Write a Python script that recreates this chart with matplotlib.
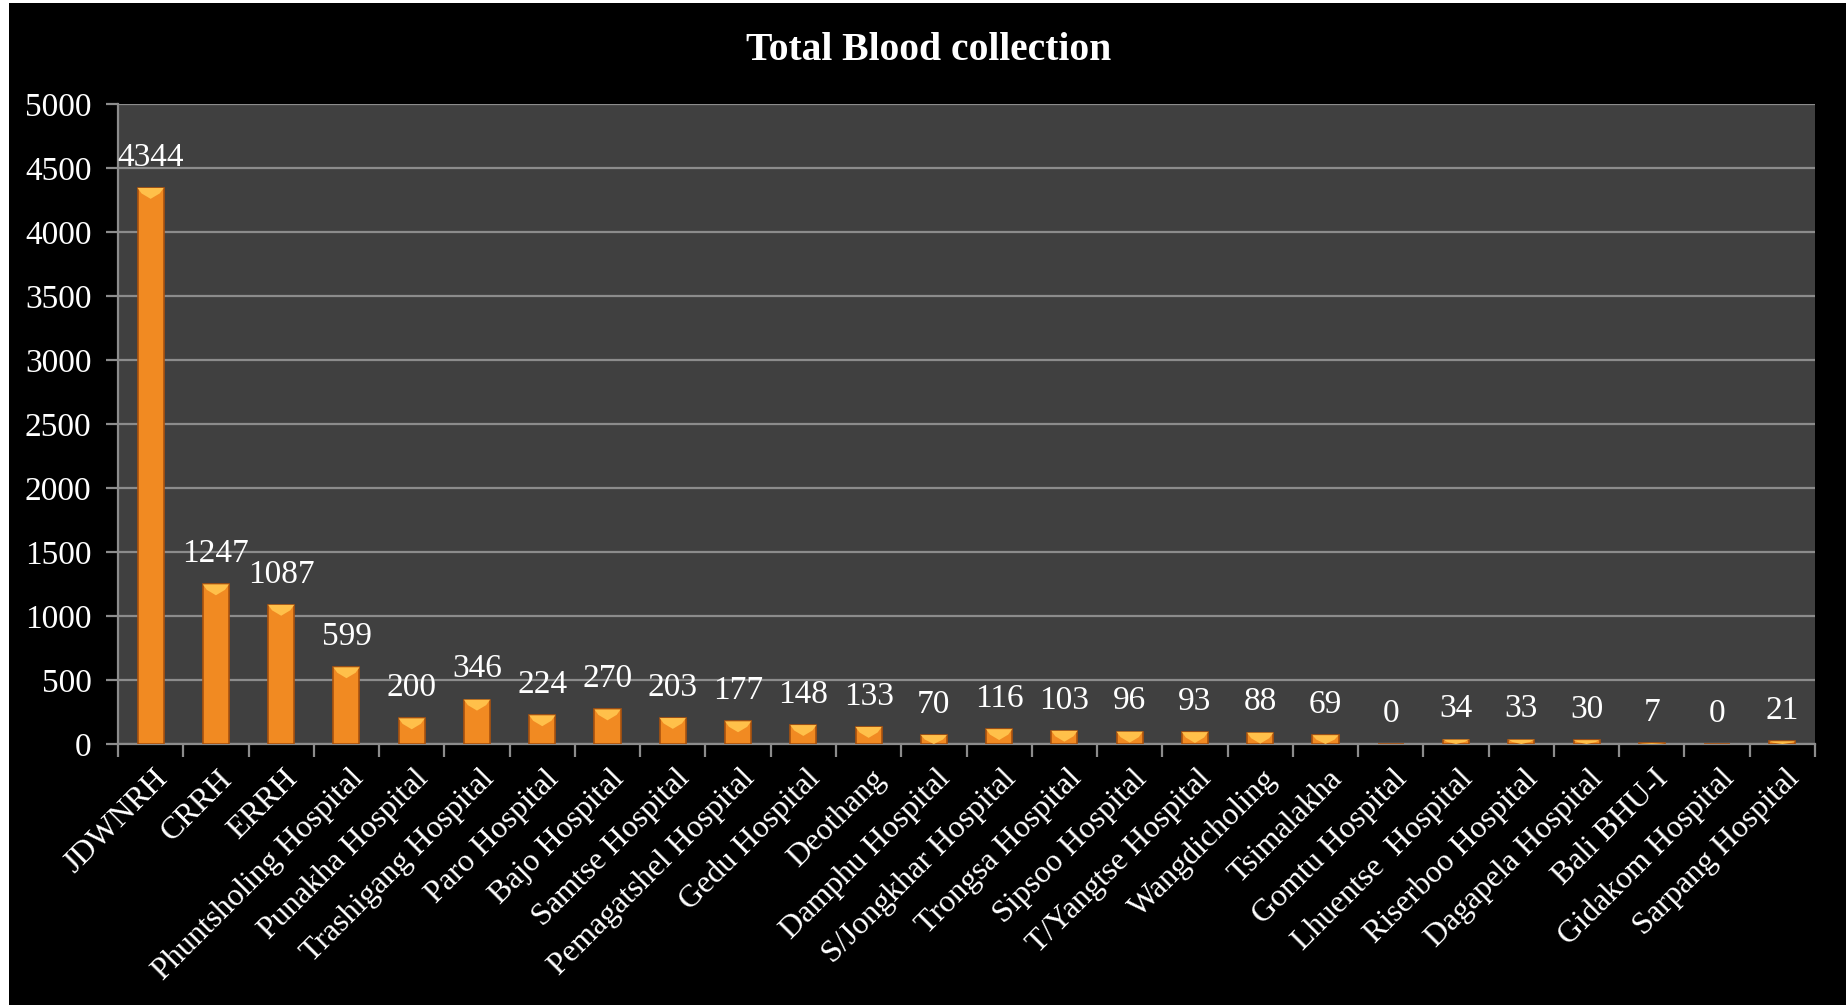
import matplotlib
matplotlib.use("Agg")
import matplotlib.pyplot as plt
from matplotlib.patches import Rectangle, Polygon
from matplotlib.transforms import ScaledTranslation, blended_transform_factory
import numpy as np

# data
hospitals = ["JDWNRH", "CRRH", "ERRH", "Phuntsholing Hospital", "Punakha Hospital",
             "Trashigang Hospital", "Paro Hospital", "Bajo Hospital", "Samtse Hospital",
             "Pemagatshel Hospital", "Gedu Hospital", "Deothang", "Damphu Hospital",
             "S/Jongkhar Hospital", "Trongsa Hospital", "Sipsoo Hospital",
             "T/Yangtse Hospital", "Wangdicholing", "Tsimalakha", "Gomtu Hospital",
             "Lhuentse  Hospital", "Riserboo Hospital", "Dagapela Hospital",
             "Bali BHU-I", "Gidakom Hospital", "Sarpang Hospital"]
collection = [4344, 1247, 1087, 599, 200, 346, 224, 270, 203, 177, 148, 133, 70,
              116, 103, 96, 93, 88, 69, 0, 34, 33, 30, 7, 0, 21]
yticks = [0, 500, 1000, 1500, 2000, 2500, 3000, 3500, 4000, 4500, 5000]

plt.rcParams['font.family'] = ['Liberation Serif', 'DejaVu Serif']

fig = plt.figure(figsize=(18.46, 10.05), dpi=100, facecolor='white')
# black panel, thin white strip on the left and top
fig.patches.append(Rectangle((9/1846, 0), 1 - 9/1846, 1 - 3/1005,
                             transform=fig.transFigure, facecolor='black',
                             edgecolor='none', zorder=-10))

ax = fig.add_axes([118/1846, 1 - 744/1005, (1815 - 118)/1846, (744 - 104)/1005])
ax.set_facecolor('#404040')

x = np.arange(len(hospitals))
w = 0.4
ax.bar(x, collection, width=w, color='#F18A22', edgecolor='#A9520E',
       linewidth=1.2, zorder=3)

# lighter bevel on top of each bar, value label above
for xi, v in zip(x, collection):
    if v > 0:
        d = min(v, 85)
        cap = Polygon([(xi - w/2, v), (xi + w/2, v), (xi + w/2 - 0.06, v - d * 0.5),
                       (xi, v - d), (xi - w/2 + 0.06, v - d * 0.5)],
                      closed=True, facecolor='#FFC04A', edgecolor='none', zorder=4)
        ax.add_patch(cap)
    ax.annotate(str(v), (xi, v), xytext=(0, 22), textcoords='offset points',
                ha='center', va='center', color='white', fontsize=24, zorder=5)

ax.set_xlim(-0.5, len(hospitals) - 0.5)
ax.set_ylim(0, 5000)
ax.set_yticks(yticks)
ax.set_yticklabels([str(t) for t in yticks])
ax.yaxis.grid(True, color='#8C8C8C', linewidth=1.6, zorder=1)
ax.set_axisbelow(True)

# category labels, drawn as text so they can sit a little right of centre
ax.set_xticks([])
trans = blended_transform_factory(ax.transData, ax.transAxes) + \
    ScaledTranslation(9/72, -22/72, fig.dpi_scale_trans)
for xi, name in zip(x, hospitals):
    ax.text(xi, 0, name, transform=trans, rotation=45, ha='right', va='center',
            rotation_mode='anchor', color='white', fontsize=23, clip_on=False)

ax.set_xticks(np.arange(len(hospitals) + 1) - 0.5, minor=True)
ax.tick_params(axis='x', which='minor', length=9, width=1.6, color='#8C8C8C')
ax.tick_params(axis='y', length=9, width=1.6, color='#8C8C8C', pad=10,
               labelsize=24, labelcolor='white')

for s in ['top', 'right']:
    ax.spines[s].set_visible(False)
for s in ['left', 'bottom']:
    ax.spines[s].set_color('#8C8C8C')
    ax.spines[s].set_linewidth(1.6)

fig.text(0.503, 1 - 50/1005, 'Total Blood collection',
         ha='center', va='center', color='white', fontsize=28.5, fontweight='bold')

fig.savefig('out.png', dpi=100, facecolor=fig.get_facecolor())
